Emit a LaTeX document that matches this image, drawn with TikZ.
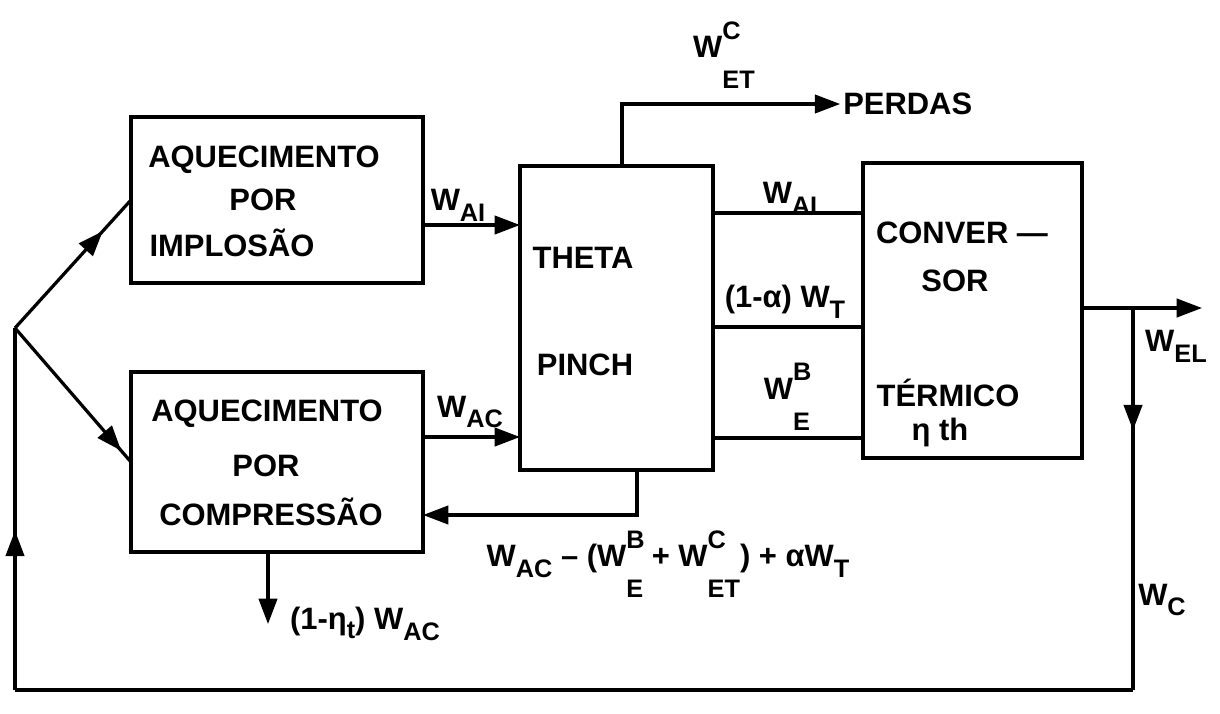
\documentclass[tikz,border=0pt]{standalone}
\usepackage{fontspec}
\setmainfont{Liberation Sans}
\usetikzlibrary{arrows.meta,decorations.markings,calc}
\newcommand\subfnt{\fontsize{18}{18}\selectfont}
\newcommand\Wsb[1]{W\raisebox{-0.35em}{\subfnt #1}}
\newcommand\Wsupsub[2]{W\rlap{\raisebox{0.6em}{\subfnt #1}}\raisebox{-1.0em}{\subfnt #2}}
\tikzset{
  box/.style={draw, line width=2.4pt, outer sep=0pt, inner sep=0pt},
  lbl/.style={font=\bfseries\fontsize{22}{25}\selectfont, inner sep=0pt},
  ln/.style={line width=2.3pt},
  arr/.style={ln, -{Triangle[length=18pt,width=13pt]}},
  midarr/.style={ln, postaction={decorate}, decoration={markings, mark=at position #1 with {\arrow{Triangle[length=18pt,width=13pt]}}}}
}
\begin{document}
\begin{tikzpicture}[x=0.025cm,y=-0.025cm]
\useasboundingbox (0,0) rectangle (1220,713);
% boxes
\node[box, minimum width=7.3cm, minimum height=4.15cm] (b1) at (277,200) {};
\node[box, minimum width=7.3cm, minimum height=4.5cm] (b2) at (277,462) {};
\node[box, minimum width=4.825cm, minimum height=7.6cm] (th) at (616.5,318) {};
\node[box, minimum width=5.475cm, minimum height=7.375cm] (cv) at (972.5,310.5) {};
% box texts
\node[lbl] (t1a) at (264,160) {AQUECIMENTO};
\node[lbl] (t1b) at (263,200) {POR};
\node[lbl] (t1c) at (232,243) {IMPLOSÃO};
\node[lbl] (t2a) at (267,414) {AQUECIMENTO};
\node[lbl] (t2b) at (266,466) {POR};
\node[lbl] (t2c) at (271,512) {COMPRESSÃO};
\node[lbl] (t3a) at (583,258) {THETA};
\node[lbl] (t3b) at (585,365) {PINCH};
\node[lbl] (t4a) at (962,233) {CONVER —};
\node[lbl] (t4b) at (955,281) {SOR};
\node[lbl] (t4c) at (948,393) {TÉRMICO};
\node[lbl] (t4d) at (940,432) {η th};
% coordinates
\coordinate (sp) at (15,328);
\coordinate (yAI) at (0,225);
\coordinate (yAC) at (0,437);
\coordinate (y1) at (0,213);
\coordinate (y2) at (0,327);
\coordinate (y3) at (0,438);
\coordinate (fb) at (637,515);
\coordinate (loss) at (268,624);
\coordinate (pk) at (622,104);
\coordinate (yEL) at (0,308);
\coordinate (elend) at (1202,308);
\coordinate (br) at (1133,308);
\coordinate (brb) at (1133,690);
\coordinate (blc) at (15,690);
% connectors
\draw[midarr=0.76] (sp) -- (b1.west);
\draw[midarr=0.92] (sp) -- (b2.west);
\draw[arr] (b1.east |- yAI) -- (th.west |- yAI);
\draw[arr] (b2.east |- yAC) -- (th.west |- yAC);
\draw[arr] (th.south -| fb) |- (b2.east |- fb);
\draw[arr] (b2.south -| loss) -- (loss);
\node[lbl, anchor=west] (perdas) at (843,104) {PERDAS};
\draw[arr] (th.north -| pk) |- ([xshift=-2pt]perdas.west);
\draw[ln] (th.east |- y1) -- (cv.west |- y1);
\draw[ln] (th.east |- y2) -- (cv.west |- y2);
\draw[ln] (th.east |- y3) -- (cv.west |- y3);
\draw[arr] (cv.east |- yEL) -- (elend);
\draw[midarr=0.32] (br) -- (brb);
\draw[ln] (brb) -- (blc);
\draw[midarr=0.44] (blc) -- (sp);
% labels
\node[lbl] (lwai) at (458,205) {\Wsb{AI}};
\node[lbl] (lwac) at (470,412) {\Wsb{AC}};
\node[lbl] (lwai2) at (790,198) {\Wsb{AI}};
\node[lbl] (lalpha) at (785,302) {(1-α) \Wsb{T}};
\node[lbl] (lwbe) at (787,397) {\Wsupsub{B}{E}};
\node[lbl] (lwcet) at (724,55) {\Wsupsub{C}{ET}};
\node[lbl] (lwel) at (1176,346) {\Wsb{EL}};
\node[lbl] (lwc) at (1162,600) {\Wsb{C}};
\node[lbl] (lform) at (668,564) {\Wsb{AC} -- (\Wsupsub{B}{E} + \Wsupsub{C}{ET}) + α\Wsb{T}};
\node[lbl] (lloss) at (365,624) {(1-η\raisebox{-0.3em}{\subfnt t}) \Wsb{AC}};
\end{tikzpicture}
\end{document}
